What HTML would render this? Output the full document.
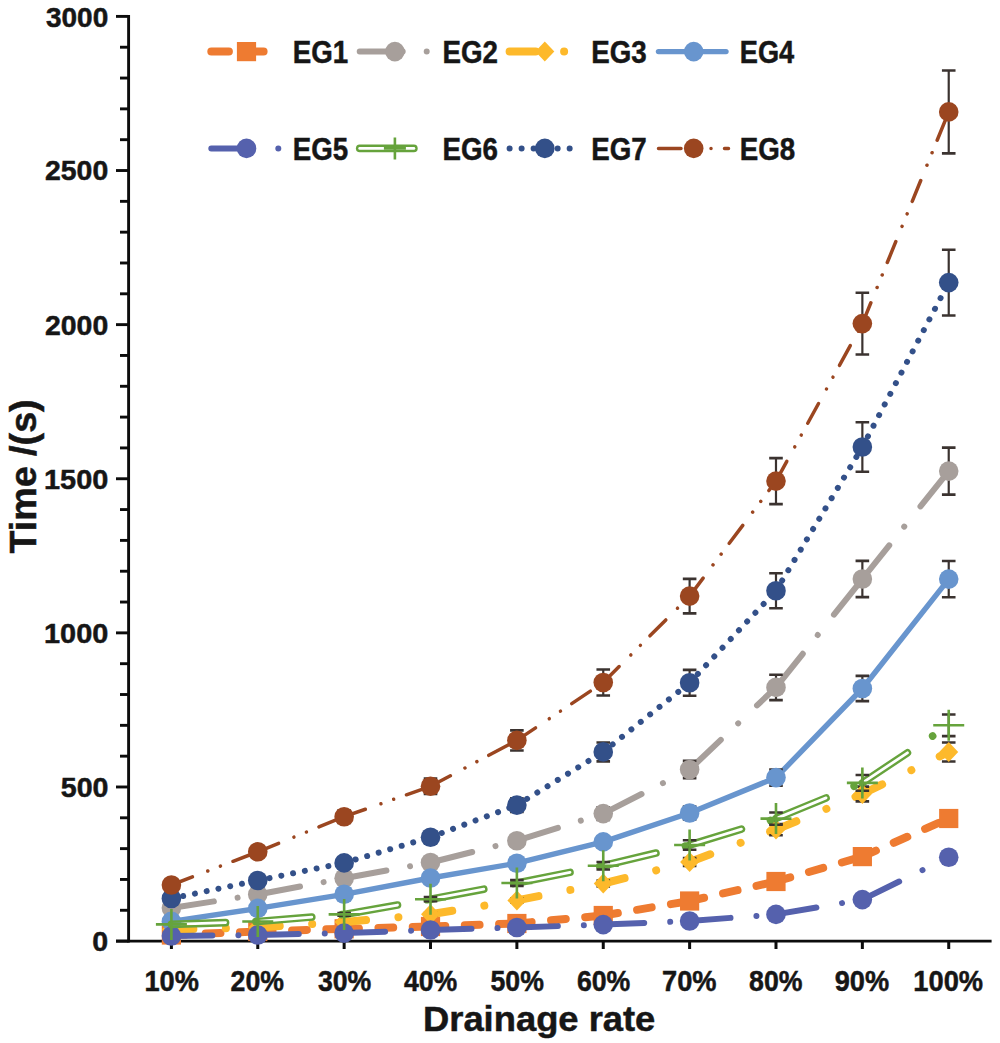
<!DOCTYPE html><html><head><meta charset="utf-8"><style>html,body{margin:0;padding:0;background:#fff;}svg{display:block;}text{font-family:"Liberation Sans",sans-serif;font-weight:bold;fill:#161616;stroke:#161616;stroke-width:0.5px;}</style></head><body>
<svg width="1000" height="1043" viewBox="0 0 1000 1043">
<rect width="1000" height="1043" fill="#fff"/>
<line x1="128.6" y1="15" x2="128.6" y2="942.5" stroke="#0c0c0c" stroke-width="2.9"/>
<line x1="116" y1="941.1" x2="991.6" y2="941.1" stroke="#0c0c0c" stroke-width="2.9"/>
<line x1="116" y1="941.10" x2="128.6" y2="941.10" stroke="#0c0c0c" stroke-width="2.9"/>
<line x1="120" y1="910.28" x2="128.6" y2="910.28" stroke="#0c0c0c" stroke-width="2.9"/>
<line x1="120" y1="879.45" x2="128.6" y2="879.45" stroke="#0c0c0c" stroke-width="2.9"/>
<line x1="120" y1="848.63" x2="128.6" y2="848.63" stroke="#0c0c0c" stroke-width="2.9"/>
<line x1="120" y1="817.81" x2="128.6" y2="817.81" stroke="#0c0c0c" stroke-width="2.9"/>
<line x1="116" y1="786.98" x2="128.6" y2="786.98" stroke="#0c0c0c" stroke-width="2.9"/>
<line x1="120" y1="756.16" x2="128.6" y2="756.16" stroke="#0c0c0c" stroke-width="2.9"/>
<line x1="120" y1="725.34" x2="128.6" y2="725.34" stroke="#0c0c0c" stroke-width="2.9"/>
<line x1="120" y1="694.51" x2="128.6" y2="694.51" stroke="#0c0c0c" stroke-width="2.9"/>
<line x1="120" y1="663.69" x2="128.6" y2="663.69" stroke="#0c0c0c" stroke-width="2.9"/>
<line x1="116" y1="632.87" x2="128.6" y2="632.87" stroke="#0c0c0c" stroke-width="2.9"/>
<line x1="120" y1="602.04" x2="128.6" y2="602.04" stroke="#0c0c0c" stroke-width="2.9"/>
<line x1="120" y1="571.22" x2="128.6" y2="571.22" stroke="#0c0c0c" stroke-width="2.9"/>
<line x1="120" y1="540.40" x2="128.6" y2="540.40" stroke="#0c0c0c" stroke-width="2.9"/>
<line x1="120" y1="509.57" x2="128.6" y2="509.57" stroke="#0c0c0c" stroke-width="2.9"/>
<line x1="116" y1="478.75" x2="128.6" y2="478.75" stroke="#0c0c0c" stroke-width="2.9"/>
<line x1="120" y1="447.93" x2="128.6" y2="447.93" stroke="#0c0c0c" stroke-width="2.9"/>
<line x1="120" y1="417.10" x2="128.6" y2="417.10" stroke="#0c0c0c" stroke-width="2.9"/>
<line x1="120" y1="386.28" x2="128.6" y2="386.28" stroke="#0c0c0c" stroke-width="2.9"/>
<line x1="120" y1="355.46" x2="128.6" y2="355.46" stroke="#0c0c0c" stroke-width="2.9"/>
<line x1="116" y1="324.63" x2="128.6" y2="324.63" stroke="#0c0c0c" stroke-width="2.9"/>
<line x1="120" y1="293.81" x2="128.6" y2="293.81" stroke="#0c0c0c" stroke-width="2.9"/>
<line x1="120" y1="262.99" x2="128.6" y2="262.99" stroke="#0c0c0c" stroke-width="2.9"/>
<line x1="120" y1="232.16" x2="128.6" y2="232.16" stroke="#0c0c0c" stroke-width="2.9"/>
<line x1="120" y1="201.34" x2="128.6" y2="201.34" stroke="#0c0c0c" stroke-width="2.9"/>
<line x1="116" y1="170.52" x2="128.6" y2="170.52" stroke="#0c0c0c" stroke-width="2.9"/>
<line x1="120" y1="139.69" x2="128.6" y2="139.69" stroke="#0c0c0c" stroke-width="2.9"/>
<line x1="120" y1="108.87" x2="128.6" y2="108.87" stroke="#0c0c0c" stroke-width="2.9"/>
<line x1="120" y1="78.05" x2="128.6" y2="78.05" stroke="#0c0c0c" stroke-width="2.9"/>
<line x1="120" y1="47.22" x2="128.6" y2="47.22" stroke="#0c0c0c" stroke-width="2.9"/>
<line x1="116" y1="16.40" x2="128.6" y2="16.40" stroke="#0c0c0c" stroke-width="2.9"/>
<line x1="171.40" y1="941" x2="171.40" y2="949" stroke="#0c0c0c" stroke-width="3"/>
<line x1="257.77" y1="941" x2="257.77" y2="949" stroke="#0c0c0c" stroke-width="3"/>
<line x1="344.14" y1="941" x2="344.14" y2="949" stroke="#0c0c0c" stroke-width="3"/>
<line x1="430.51" y1="941" x2="430.51" y2="949" stroke="#0c0c0c" stroke-width="3"/>
<line x1="516.88" y1="941" x2="516.88" y2="949" stroke="#0c0c0c" stroke-width="3"/>
<line x1="603.25" y1="941" x2="603.25" y2="949" stroke="#0c0c0c" stroke-width="3"/>
<line x1="689.62" y1="941" x2="689.62" y2="949" stroke="#0c0c0c" stroke-width="3"/>
<line x1="775.99" y1="941" x2="775.99" y2="949" stroke="#0c0c0c" stroke-width="3"/>
<line x1="862.36" y1="941" x2="862.36" y2="949" stroke="#0c0c0c" stroke-width="3"/>
<line x1="948.73" y1="941" x2="948.73" y2="949" stroke="#0c0c0c" stroke-width="3"/>
<text x="92.20" y="950.80" font-size="28.04" textLength="15.89" lengthAdjust="spacingAndGlyphs">0</text>
<text x="60.80" y="797.10" font-size="28.04" textLength="47.70" lengthAdjust="spacingAndGlyphs">500</text>
<text x="44.00" y="643.40" font-size="28.04" textLength="64.27" lengthAdjust="spacingAndGlyphs">1000</text>
<text x="44.00" y="488.70" font-size="28.04" textLength="64.27" lengthAdjust="spacingAndGlyphs">1500</text>
<text x="45.00" y="335.00" font-size="28.04" textLength="63.23" lengthAdjust="spacingAndGlyphs">2000</text>
<text x="45.00" y="180.30" font-size="28.04" textLength="63.23" lengthAdjust="spacingAndGlyphs">2500</text>
<text x="46.00" y="26.60" font-size="28.04" textLength="62.21" lengthAdjust="spacingAndGlyphs">3000</text>
<text x="144.50" y="991.00" font-size="29.88" textLength="54.42" lengthAdjust="spacingAndGlyphs">10%</text>
<text x="230.60" y="991.00" font-size="29.88" textLength="53.40" lengthAdjust="spacingAndGlyphs">20%</text>
<text x="317.90" y="991.00" font-size="29.88" textLength="53.40" lengthAdjust="spacingAndGlyphs">30%</text>
<text x="403.90" y="991.00" font-size="29.88" textLength="53.40" lengthAdjust="spacingAndGlyphs">40%</text>
<text x="490.50" y="991.00" font-size="29.88" textLength="53.40" lengthAdjust="spacingAndGlyphs">50%</text>
<text x="576.90" y="991.00" font-size="29.88" textLength="53.38" lengthAdjust="spacingAndGlyphs">60%</text>
<text x="662.10" y="991.00" font-size="29.88" textLength="54.46" lengthAdjust="spacingAndGlyphs">70%</text>
<text x="749.10" y="991.00" font-size="29.88" textLength="53.40" lengthAdjust="spacingAndGlyphs">80%</text>
<text x="834.70" y="991.00" font-size="29.88" textLength="54.40" lengthAdjust="spacingAndGlyphs">90%</text>
<text x="913.30" y="991.00" font-size="29.88" textLength="69.75" lengthAdjust="spacingAndGlyphs">100%</text>
<text x="292.70" y="63.10" font-size="31.61" textLength="55.45" lengthAdjust="spacingAndGlyphs">EG1</text>
<text x="442.50" y="63.10" font-size="31.61" textLength="55.45" lengthAdjust="spacingAndGlyphs">EG2</text>
<text x="591.20" y="63.10" font-size="31.61" textLength="55.45" lengthAdjust="spacingAndGlyphs">EG3</text>
<text x="739.80" y="63.10" font-size="31.61" textLength="54.43" lengthAdjust="spacingAndGlyphs">EG4</text>
<text x="292.70" y="159.60" font-size="31.61" textLength="55.45" lengthAdjust="spacingAndGlyphs">EG5</text>
<text x="442.50" y="159.60" font-size="31.61" textLength="55.45" lengthAdjust="spacingAndGlyphs">EG6</text>
<text x="591.20" y="159.60" font-size="31.61" textLength="55.45" lengthAdjust="spacingAndGlyphs">EG7</text>
<text x="739.80" y="159.60" font-size="31.61" textLength="55.45" lengthAdjust="spacingAndGlyphs">EG8</text>
<text x="423.00" y="1030.50" font-size="35.60" textLength="232.33" lengthAdjust="spacingAndGlyphs">Drainage rate</text>
<text transform="translate(36.10,553.60) rotate(-90)" font-size="36.50" textLength="154.24" lengthAdjust="spacingAndGlyphs">Time /(s)</text>
<g><line x1="171.40" y1="935.00" x2="257.77" y2="931.50" stroke="#EE7B31" stroke-width="8" stroke-linecap="round" stroke-dasharray="14.8 19.5"/><line x1="257.77" y1="931.50" x2="344.14" y2="928.80" stroke="#EE7B31" stroke-width="8" stroke-linecap="round" stroke-dasharray="14.8 19.5"/><line x1="344.14" y1="928.80" x2="430.51" y2="926.50" stroke="#EE7B31" stroke-width="8" stroke-linecap="round" stroke-dasharray="14.8 19.5"/><line x1="430.51" y1="926.50" x2="516.88" y2="923.50" stroke="#EE7B31" stroke-width="8" stroke-linecap="round" stroke-dasharray="14.8 19.5"/><line x1="516.88" y1="923.50" x2="603.25" y2="915.50" stroke="#EE7B31" stroke-width="8" stroke-linecap="round" stroke-dasharray="14.8 19.5"/><line x1="603.25" y1="915.50" x2="689.62" y2="901.00" stroke="#EE7B31" stroke-width="8" stroke-linecap="round" stroke-dasharray="14.8 19.5"/><line x1="689.62" y1="901.00" x2="775.99" y2="881.50" stroke="#EE7B31" stroke-width="8" stroke-linecap="round" stroke-dasharray="14.8 19.5"/><line x1="775.99" y1="881.50" x2="862.36" y2="856.60" stroke="#EE7B31" stroke-width="8" stroke-linecap="round" stroke-dasharray="14.8 19.5"/><line x1="862.36" y1="856.60" x2="948.73" y2="818.50" stroke="#EE7B31" stroke-width="8" stroke-linecap="round" stroke-dasharray="14.8 19.5"/><path d="M603.25,914.22V916.78" stroke="#3B3330" stroke-width="2.2" fill="none"/><path d="M596.45,914.22H610.05M596.45,916.78H610.05" stroke="#3B3330" stroke-width="2.6" fill="none"/><path d="M689.62,899.00V903.00" stroke="#3B3330" stroke-width="2.2" fill="none"/><path d="M682.82,899.00H696.42M682.82,903.00H696.42" stroke="#3B3330" stroke-width="2.6" fill="none"/><path d="M775.99,878.52V884.48" stroke="#3B3330" stroke-width="2.2" fill="none"/><path d="M769.19,878.52H782.79M769.19,884.48H782.79" stroke="#3B3330" stroke-width="2.6" fill="none"/><path d="M862.36,852.38V860.83" stroke="#3B3330" stroke-width="2.2" fill="none"/><path d="M855.56,852.38H869.16M855.56,860.83H869.16" stroke="#3B3330" stroke-width="2.6" fill="none"/><path d="M948.73,812.37V824.63" stroke="#3B3330" stroke-width="2.2" fill="none"/><path d="M941.93,812.37H955.53M941.93,824.63H955.53" stroke="#3B3330" stroke-width="2.6" fill="none"/><rect x="161.80" y="925.40" width="19.2" height="19.2" fill="#EE7B31"/><rect x="248.17" y="921.90" width="19.2" height="19.2" fill="#EE7B31"/><rect x="334.54" y="919.20" width="19.2" height="19.2" fill="#EE7B31"/><rect x="420.91" y="916.90" width="19.2" height="19.2" fill="#EE7B31"/><rect x="507.28" y="913.90" width="19.2" height="19.2" fill="#EE7B31"/><rect x="593.65" y="905.90" width="19.2" height="19.2" fill="#EE7B31"/><rect x="680.02" y="891.40" width="19.2" height="19.2" fill="#EE7B31"/><rect x="766.39" y="871.90" width="19.2" height="19.2" fill="#EE7B31"/><rect x="852.76" y="847.00" width="19.2" height="19.2" fill="#EE7B31"/><rect x="939.13" y="808.90" width="19.2" height="19.2" fill="#EE7B31"/></g>
<g><line x1="171.40" y1="908.00" x2="257.77" y2="894.50" stroke="#A79F9B" stroke-width="6" stroke-linecap="round" stroke-dasharray="43 24 0.01 26"/><line x1="257.77" y1="894.50" x2="344.14" y2="878.30" stroke="#A79F9B" stroke-width="6" stroke-linecap="round" stroke-dasharray="43 24 0.01 26"/><line x1="344.14" y1="878.30" x2="430.51" y2="862.50" stroke="#A79F9B" stroke-width="6" stroke-linecap="round" stroke-dasharray="43 24 0.01 26"/><line x1="430.51" y1="862.50" x2="516.88" y2="840.70" stroke="#A79F9B" stroke-width="6" stroke-linecap="round" stroke-dasharray="43 24 0.01 26"/><line x1="516.88" y1="840.70" x2="603.25" y2="813.60" stroke="#A79F9B" stroke-width="6" stroke-linecap="round" stroke-dasharray="43 24 0.01 26"/><line x1="603.25" y1="813.60" x2="689.62" y2="769.50" stroke="#A79F9B" stroke-width="6" stroke-linecap="round" stroke-dasharray="43 24 0.01 26"/><line x1="689.62" y1="769.50" x2="775.99" y2="687.40" stroke="#A79F9B" stroke-width="6" stroke-linecap="round" stroke-dasharray="43 24 0.01 26"/><line x1="775.99" y1="687.40" x2="862.36" y2="579.00" stroke="#A79F9B" stroke-width="6" stroke-linecap="round" stroke-dasharray="43 24 0.01 26"/><line x1="862.36" y1="579.00" x2="948.73" y2="471.10" stroke="#A79F9B" stroke-width="6" stroke-linecap="round" stroke-dasharray="43 24 0.01 26"/><path d="M171.40,906.35V909.65" stroke="#3B3330" stroke-width="2.2" fill="none"/><path d="M164.60,906.35H178.20M164.60,909.65H178.20" stroke="#3B3330" stroke-width="2.6" fill="none"/><path d="M257.77,892.17V896.83" stroke="#3B3330" stroke-width="2.2" fill="none"/><path d="M250.97,892.17H264.57M250.97,896.83H264.57" stroke="#3B3330" stroke-width="2.6" fill="none"/><path d="M344.14,875.16V881.44" stroke="#3B3330" stroke-width="2.2" fill="none"/><path d="M337.34,875.16H350.94M337.34,881.44H350.94" stroke="#3B3330" stroke-width="2.6" fill="none"/><path d="M430.51,858.57V866.43" stroke="#3B3330" stroke-width="2.2" fill="none"/><path d="M423.71,858.57H437.31M423.71,866.43H437.31" stroke="#3B3330" stroke-width="2.6" fill="none"/><path d="M516.88,835.68V845.72" stroke="#3B3330" stroke-width="2.2" fill="none"/><path d="M510.08,835.68H523.68M510.08,845.72H523.68" stroke="#3B3330" stroke-width="2.6" fill="none"/><path d="M603.25,807.23V819.98" stroke="#3B3330" stroke-width="2.2" fill="none"/><path d="M596.45,807.23H610.05M596.45,819.98H610.05" stroke="#3B3330" stroke-width="2.6" fill="none"/><path d="M689.62,760.92V778.08" stroke="#3B3330" stroke-width="2.2" fill="none"/><path d="M682.82,760.92H696.42M682.82,778.08H696.42" stroke="#3B3330" stroke-width="2.6" fill="none"/><path d="M775.99,674.71V700.09" stroke="#3B3330" stroke-width="2.2" fill="none"/><path d="M769.19,674.71H782.79M769.19,700.09H782.79" stroke="#3B3330" stroke-width="2.6" fill="none"/><path d="M862.36,560.89V597.11" stroke="#3B3330" stroke-width="2.2" fill="none"/><path d="M855.56,560.89H869.16M855.56,597.11H869.16" stroke="#3B3330" stroke-width="2.6" fill="none"/><path d="M948.73,447.60V494.60" stroke="#3B3330" stroke-width="2.2" fill="none"/><path d="M941.93,447.60H955.53M941.93,494.60H955.53" stroke="#3B3330" stroke-width="2.6" fill="none"/><circle cx="171.40" cy="908.00" r="9.8" fill="#A79F9B"/><circle cx="257.77" cy="894.50" r="9.8" fill="#A79F9B"/><circle cx="344.14" cy="878.30" r="9.8" fill="#A79F9B"/><circle cx="430.51" cy="862.50" r="9.8" fill="#A79F9B"/><circle cx="516.88" cy="840.70" r="9.8" fill="#A79F9B"/><circle cx="603.25" cy="813.60" r="9.8" fill="#A79F9B"/><circle cx="689.62" cy="769.50" r="9.8" fill="#A79F9B"/><circle cx="775.99" cy="687.40" r="9.8" fill="#A79F9B"/><circle cx="862.36" cy="579.00" r="9.8" fill="#A79F9B"/><circle cx="948.73" cy="471.10" r="9.8" fill="#A79F9B"/></g>
<g><line x1="171.40" y1="929.50" x2="257.77" y2="927.50" stroke="#FDB92B" stroke-width="8" stroke-linecap="round" stroke-dasharray="22 32.5 0.01 31.5"/><line x1="257.77" y1="927.50" x2="344.14" y2="922.00" stroke="#FDB92B" stroke-width="8" stroke-linecap="round" stroke-dasharray="22 32.5 0.01 31.5"/><line x1="344.14" y1="922.00" x2="430.51" y2="914.30" stroke="#FDB92B" stroke-width="8" stroke-linecap="round" stroke-dasharray="22 32.5 0.01 31.5"/><line x1="430.51" y1="914.30" x2="516.88" y2="900.40" stroke="#FDB92B" stroke-width="8" stroke-linecap="round" stroke-dasharray="22 32.5 0.01 31.5"/><line x1="516.88" y1="900.40" x2="603.25" y2="883.50" stroke="#FDB92B" stroke-width="8" stroke-linecap="round" stroke-dasharray="22 32.5 0.01 31.5"/><line x1="603.25" y1="883.50" x2="689.62" y2="862.00" stroke="#FDB92B" stroke-width="8" stroke-linecap="round" stroke-dasharray="22 32.5 0.01 31.5"/><line x1="689.62" y1="862.00" x2="775.99" y2="829.60" stroke="#FDB92B" stroke-width="8" stroke-linecap="round" stroke-dasharray="22 32.5 0.01 31.5"/><line x1="775.99" y1="829.60" x2="862.36" y2="794.00" stroke="#FDB92B" stroke-width="8" stroke-linecap="round" stroke-dasharray="22 32.5 0.01 31.5"/><line x1="862.36" y1="794.00" x2="948.73" y2="752.00" stroke="#FDB92B" stroke-width="8" stroke-linecap="round" stroke-dasharray="22 32.5 0.01 31.5"/><path d="M430.51,912.96V915.64" stroke="#3B3330" stroke-width="2.2" fill="none"/><path d="M423.71,912.96H437.31M423.71,915.64H437.31" stroke="#3B3330" stroke-width="2.6" fill="none"/><path d="M516.88,898.37V902.43" stroke="#3B3330" stroke-width="2.2" fill="none"/><path d="M510.08,898.37H523.68M510.08,902.43H523.68" stroke="#3B3330" stroke-width="2.6" fill="none"/><path d="M603.25,880.62V886.38" stroke="#3B3330" stroke-width="2.2" fill="none"/><path d="M596.45,880.62H610.05M596.45,886.38H610.05" stroke="#3B3330" stroke-width="2.6" fill="none"/><path d="M689.62,858.04V865.96" stroke="#3B3330" stroke-width="2.2" fill="none"/><path d="M682.82,858.04H696.42M682.82,865.96H696.42" stroke="#3B3330" stroke-width="2.6" fill="none"/><path d="M775.99,824.02V835.18" stroke="#3B3330" stroke-width="2.2" fill="none"/><path d="M769.19,824.02H782.79M769.19,835.18H782.79" stroke="#3B3330" stroke-width="2.6" fill="none"/><path d="M862.36,786.64V801.36" stroke="#3B3330" stroke-width="2.2" fill="none"/><path d="M855.56,786.64H869.16M855.56,801.36H869.16" stroke="#3B3330" stroke-width="2.6" fill="none"/><path d="M948.73,742.54V761.46" stroke="#3B3330" stroke-width="2.2" fill="none"/><path d="M941.93,742.54H955.53M941.93,761.46H955.53" stroke="#3B3330" stroke-width="2.6" fill="none"/><path d="M161.90,929.50L171.40,919.50L180.90,929.50L171.40,939.50Z" fill="#FDB92B"/><path d="M248.27,927.50L257.77,917.50L267.27,927.50L257.77,937.50Z" fill="#FDB92B"/><path d="M334.64,922.00L344.14,912.00L353.64,922.00L344.14,932.00Z" fill="#FDB92B"/><path d="M421.01,914.30L430.51,904.30L440.01,914.30L430.51,924.30Z" fill="#FDB92B"/><path d="M507.38,900.40L516.88,890.40L526.38,900.40L516.88,910.40Z" fill="#FDB92B"/><path d="M593.75,883.50L603.25,873.50L612.75,883.50L603.25,893.50Z" fill="#FDB92B"/><path d="M680.12,862.00L689.62,852.00L699.12,862.00L689.62,872.00Z" fill="#FDB92B"/><path d="M766.49,829.60L775.99,819.60L785.49,829.60L775.99,839.60Z" fill="#FDB92B"/><path d="M852.86,794.00L862.36,784.00L871.86,794.00L862.36,804.00Z" fill="#FDB92B"/><path d="M939.23,752.00L948.73,742.00L958.23,752.00L948.73,762.00Z" fill="#FDB92B"/></g>
<g><line x1="171.40" y1="921.40" x2="257.77" y2="908.40" stroke="#6895CE" stroke-width="5.4" stroke-linecap="round"/><line x1="257.77" y1="908.40" x2="344.14" y2="894.30" stroke="#6895CE" stroke-width="5.4" stroke-linecap="round"/><line x1="344.14" y1="894.30" x2="430.51" y2="878.00" stroke="#6895CE" stroke-width="5.4" stroke-linecap="round"/><line x1="430.51" y1="878.00" x2="516.88" y2="863.20" stroke="#6895CE" stroke-width="5.4" stroke-linecap="round"/><line x1="516.88" y1="863.20" x2="603.25" y2="841.90" stroke="#6895CE" stroke-width="5.4" stroke-linecap="round"/><line x1="603.25" y1="841.90" x2="689.62" y2="813.00" stroke="#6895CE" stroke-width="5.4" stroke-linecap="round"/><line x1="689.62" y1="813.00" x2="775.99" y2="777.60" stroke="#6895CE" stroke-width="5.4" stroke-linecap="round"/><line x1="775.99" y1="777.60" x2="862.36" y2="688.50" stroke="#6895CE" stroke-width="5.4" stroke-linecap="round"/><line x1="862.36" y1="688.50" x2="948.73" y2="579.10" stroke="#6895CE" stroke-width="5.4" stroke-linecap="round"/><path d="M257.77,906.76V910.03" stroke="#3B3330" stroke-width="2.2" fill="none"/><path d="M250.97,906.76H264.57M250.97,910.03H264.57" stroke="#3B3330" stroke-width="2.6" fill="none"/><path d="M344.14,891.96V896.64" stroke="#3B3330" stroke-width="2.2" fill="none"/><path d="M337.34,891.96H350.94M337.34,896.64H350.94" stroke="#3B3330" stroke-width="2.6" fill="none"/><path d="M430.51,874.85V881.15" stroke="#3B3330" stroke-width="2.2" fill="none"/><path d="M423.71,874.85H437.31M423.71,881.15H437.31" stroke="#3B3330" stroke-width="2.6" fill="none"/><path d="M516.88,859.31V867.10" stroke="#3B3330" stroke-width="2.2" fill="none"/><path d="M510.08,859.31H523.68M510.08,867.10H523.68" stroke="#3B3330" stroke-width="2.6" fill="none"/><path d="M603.25,836.94V846.86" stroke="#3B3330" stroke-width="2.2" fill="none"/><path d="M596.45,836.94H610.05M596.45,846.86H610.05" stroke="#3B3330" stroke-width="2.6" fill="none"/><path d="M689.62,806.60V819.40" stroke="#3B3330" stroke-width="2.2" fill="none"/><path d="M682.82,806.60H696.42M682.82,819.40H696.42" stroke="#3B3330" stroke-width="2.6" fill="none"/><path d="M775.99,769.43V785.77" stroke="#3B3330" stroke-width="2.2" fill="none"/><path d="M769.19,769.43H782.79M769.19,785.77H782.79" stroke="#3B3330" stroke-width="2.6" fill="none"/><path d="M862.36,675.87V701.13" stroke="#3B3330" stroke-width="2.2" fill="none"/><path d="M855.56,675.87H869.16M855.56,701.13H869.16" stroke="#3B3330" stroke-width="2.6" fill="none"/><path d="M948.73,561.00V597.20" stroke="#3B3330" stroke-width="2.2" fill="none"/><path d="M941.93,561.00H955.53M941.93,597.20H955.53" stroke="#3B3330" stroke-width="2.6" fill="none"/><circle cx="171.40" cy="921.40" r="9.8" fill="#6895CE"/><circle cx="257.77" cy="908.40" r="9.8" fill="#6895CE"/><circle cx="344.14" cy="894.30" r="9.8" fill="#6895CE"/><circle cx="430.51" cy="878.00" r="9.8" fill="#6895CE"/><circle cx="516.88" cy="863.20" r="9.8" fill="#6895CE"/><circle cx="603.25" cy="841.90" r="9.8" fill="#6895CE"/><circle cx="689.62" cy="813.00" r="9.8" fill="#6895CE"/><circle cx="775.99" cy="777.60" r="9.8" fill="#6895CE"/><circle cx="862.36" cy="688.50" r="9.8" fill="#6895CE"/><circle cx="948.73" cy="579.10" r="9.8" fill="#6895CE"/></g>
<g><line x1="171.40" y1="936.00" x2="257.77" y2="935.00" stroke="#5561AD" stroke-width="6" stroke-linecap="round" stroke-dasharray="41 26 0.01 26"/><line x1="257.77" y1="935.00" x2="344.14" y2="933.10" stroke="#5561AD" stroke-width="6" stroke-linecap="round" stroke-dasharray="41 26 0.01 26"/><line x1="344.14" y1="933.10" x2="430.51" y2="930.00" stroke="#5561AD" stroke-width="6" stroke-linecap="round" stroke-dasharray="41 26 0.01 26"/><line x1="430.51" y1="930.00" x2="516.88" y2="927.50" stroke="#5561AD" stroke-width="6" stroke-linecap="round" stroke-dasharray="41 26 0.01 26"/><line x1="516.88" y1="927.50" x2="603.25" y2="924.60" stroke="#5561AD" stroke-width="6" stroke-linecap="round" stroke-dasharray="41 26 0.01 26"/><line x1="603.25" y1="924.60" x2="689.62" y2="921.00" stroke="#5561AD" stroke-width="6" stroke-linecap="round" stroke-dasharray="41 26 0.01 26"/><line x1="689.62" y1="921.00" x2="775.99" y2="914.40" stroke="#5561AD" stroke-width="6" stroke-linecap="round" stroke-dasharray="41 26 0.01 26"/><line x1="775.99" y1="914.40" x2="862.36" y2="899.60" stroke="#5561AD" stroke-width="6" stroke-linecap="round" stroke-dasharray="41 26 0.01 26"/><line x1="862.36" y1="899.60" x2="948.73" y2="857.20" stroke="#5561AD" stroke-width="6" stroke-linecap="round" stroke-dasharray="41 26 0.01 26"/><path d="M775.99,913.06V915.74" stroke="#3B3330" stroke-width="2.2" fill="none"/><path d="M769.19,913.06H782.79M769.19,915.74H782.79" stroke="#3B3330" stroke-width="2.6" fill="none"/><path d="M862.36,897.52V901.68" stroke="#3B3330" stroke-width="2.2" fill="none"/><path d="M855.56,897.52H869.16M855.56,901.68H869.16" stroke="#3B3330" stroke-width="2.6" fill="none"/><path d="M948.73,853.00V861.40" stroke="#3B3330" stroke-width="2.2" fill="none"/><path d="M941.93,853.00H955.53M941.93,861.40H955.53" stroke="#3B3330" stroke-width="2.6" fill="none"/><circle cx="171.40" cy="936.00" r="9.8" fill="#5561AD"/><circle cx="257.77" cy="935.00" r="9.8" fill="#5561AD"/><circle cx="344.14" cy="933.10" r="9.8" fill="#5561AD"/><circle cx="430.51" cy="930.00" r="9.8" fill="#5561AD"/><circle cx="516.88" cy="927.50" r="9.8" fill="#5561AD"/><circle cx="603.25" cy="924.60" r="9.8" fill="#5561AD"/><circle cx="689.62" cy="921.00" r="9.8" fill="#5561AD"/><circle cx="775.99" cy="914.40" r="9.8" fill="#5561AD"/><circle cx="862.36" cy="899.60" r="9.8" fill="#5561AD"/><circle cx="948.73" cy="857.20" r="9.8" fill="#5561AD"/></g>
<g><mask id="m46" maskUnits="userSpaceOnUse" x="0" y="0" width="1000" height="1043"><line x1="171.40" y1="924.40" x2="257.77" y2="921.50" stroke="#fff" stroke-width="7.6" stroke-linecap="round" stroke-dasharray="54.2 30.3 0.01 200"/><line x1="171.40" y1="924.40" x2="257.77" y2="921.50" stroke="#000" stroke-width="2.8" stroke-linecap="round" stroke-dasharray="54.2 300"/></mask><rect x="0" y="0" width="1000" height="1043" fill="#66A33C" mask="url(#m46)"/><mask id="m47" maskUnits="userSpaceOnUse" x="0" y="0" width="1000" height="1043"><line x1="257.77" y1="921.50" x2="344.14" y2="914.40" stroke="#fff" stroke-width="7.6" stroke-linecap="round" stroke-dasharray="54.2 30.3 0.01 200"/><line x1="257.77" y1="921.50" x2="344.14" y2="914.40" stroke="#000" stroke-width="2.8" stroke-linecap="round" stroke-dasharray="54.2 300"/></mask><rect x="0" y="0" width="1000" height="1043" fill="#66A33C" mask="url(#m47)"/><mask id="m48" maskUnits="userSpaceOnUse" x="0" y="0" width="1000" height="1043"><line x1="344.14" y1="914.40" x2="430.51" y2="899.20" stroke="#fff" stroke-width="7.6" stroke-linecap="round" stroke-dasharray="54.2 30.3 0.01 200"/><line x1="344.14" y1="914.40" x2="430.51" y2="899.20" stroke="#000" stroke-width="2.8" stroke-linecap="round" stroke-dasharray="54.2 300"/></mask><rect x="0" y="0" width="1000" height="1043" fill="#66A33C" mask="url(#m48)"/><mask id="m49" maskUnits="userSpaceOnUse" x="0" y="0" width="1000" height="1043"><line x1="430.51" y1="899.20" x2="516.88" y2="883.00" stroke="#fff" stroke-width="7.6" stroke-linecap="round" stroke-dasharray="54.2 30.3 0.01 200"/><line x1="430.51" y1="899.20" x2="516.88" y2="883.00" stroke="#000" stroke-width="2.8" stroke-linecap="round" stroke-dasharray="54.2 300"/></mask><rect x="0" y="0" width="1000" height="1043" fill="#66A33C" mask="url(#m49)"/><mask id="m50" maskUnits="userSpaceOnUse" x="0" y="0" width="1000" height="1043"><line x1="516.88" y1="883.00" x2="603.25" y2="865.70" stroke="#fff" stroke-width="7.6" stroke-linecap="round" stroke-dasharray="54.2 30.3 0.01 200"/><line x1="516.88" y1="883.00" x2="603.25" y2="865.70" stroke="#000" stroke-width="2.8" stroke-linecap="round" stroke-dasharray="54.2 300"/></mask><rect x="0" y="0" width="1000" height="1043" fill="#66A33C" mask="url(#m50)"/><mask id="m51" maskUnits="userSpaceOnUse" x="0" y="0" width="1000" height="1043"><line x1="603.25" y1="865.70" x2="689.62" y2="845.00" stroke="#fff" stroke-width="7.6" stroke-linecap="round" stroke-dasharray="54.2 30.3 0.01 200"/><line x1="603.25" y1="865.70" x2="689.62" y2="845.00" stroke="#000" stroke-width="2.8" stroke-linecap="round" stroke-dasharray="54.2 300"/></mask><rect x="0" y="0" width="1000" height="1043" fill="#66A33C" mask="url(#m51)"/><mask id="m52" maskUnits="userSpaceOnUse" x="0" y="0" width="1000" height="1043"><line x1="689.62" y1="845.00" x2="775.99" y2="818.60" stroke="#fff" stroke-width="7.6" stroke-linecap="round" stroke-dasharray="54.2 30.3 0.01 200"/><line x1="689.62" y1="845.00" x2="775.99" y2="818.60" stroke="#000" stroke-width="2.8" stroke-linecap="round" stroke-dasharray="54.2 300"/></mask><rect x="0" y="0" width="1000" height="1043" fill="#66A33C" mask="url(#m52)"/><mask id="m53" maskUnits="userSpaceOnUse" x="0" y="0" width="1000" height="1043"><line x1="775.99" y1="818.60" x2="862.36" y2="782.90" stroke="#fff" stroke-width="7.6" stroke-linecap="round" stroke-dasharray="54.2 30.3 0.01 200"/><line x1="775.99" y1="818.60" x2="862.36" y2="782.90" stroke="#000" stroke-width="2.8" stroke-linecap="round" stroke-dasharray="54.2 300"/></mask><rect x="0" y="0" width="1000" height="1043" fill="#66A33C" mask="url(#m53)"/><mask id="m54" maskUnits="userSpaceOnUse" x="0" y="0" width="1000" height="1043"><line x1="862.36" y1="782.90" x2="948.73" y2="725.30" stroke="#fff" stroke-width="7.6" stroke-linecap="round" stroke-dasharray="54.2 30.3 0.01 200"/><line x1="862.36" y1="782.90" x2="948.73" y2="725.30" stroke="#000" stroke-width="2.8" stroke-linecap="round" stroke-dasharray="54.2 300"/></mask><rect x="0" y="0" width="1000" height="1043" fill="#66A33C" mask="url(#m54)"/><path d="M344.14,913.06V915.74" stroke="#3B3330" stroke-width="2.2" fill="none"/><path d="M337.34,913.06H350.94M337.34,915.74H350.94" stroke="#3B3330" stroke-width="2.6" fill="none"/><path d="M430.51,897.11V901.30" stroke="#3B3330" stroke-width="2.2" fill="none"/><path d="M423.71,897.11H437.31M423.71,901.30H437.31" stroke="#3B3330" stroke-width="2.6" fill="none"/><path d="M516.88,880.10V885.90" stroke="#3B3330" stroke-width="2.2" fill="none"/><path d="M510.08,880.10H523.68M510.08,885.90H523.68" stroke="#3B3330" stroke-width="2.6" fill="none"/><path d="M603.25,861.93V869.47" stroke="#3B3330" stroke-width="2.2" fill="none"/><path d="M596.45,861.93H610.05M596.45,869.47H610.05" stroke="#3B3330" stroke-width="2.6" fill="none"/><path d="M689.62,840.20V849.80" stroke="#3B3330" stroke-width="2.2" fill="none"/><path d="M682.82,840.20H696.42M682.82,849.80H696.42" stroke="#3B3330" stroke-width="2.6" fill="none"/><path d="M775.99,812.48V824.73" stroke="#3B3330" stroke-width="2.2" fill="none"/><path d="M769.19,812.48H782.79M769.19,824.73H782.79" stroke="#3B3330" stroke-width="2.6" fill="none"/><path d="M862.36,774.99V790.81" stroke="#3B3330" stroke-width="2.2" fill="none"/><path d="M855.56,774.99H869.16M855.56,790.81H869.16" stroke="#3B3330" stroke-width="2.6" fill="none"/><path d="M948.73,714.51V736.09" stroke="#3B3330" stroke-width="2.2" fill="none"/><path d="M941.93,714.51H955.53M941.93,736.09H955.53" stroke="#3B3330" stroke-width="2.6" fill="none"/><path d="M155.90,924.40H186.90M171.40,908.90V939.90" stroke="#66A33C" stroke-width="2.6" fill="none"/><path d="M242.27,921.50H273.27M257.77,906.00V937.00" stroke="#66A33C" stroke-width="2.6" fill="none"/><path d="M328.64,914.40H359.64M344.14,898.90V929.90" stroke="#66A33C" stroke-width="2.6" fill="none"/><path d="M415.01,899.20H446.01M430.51,883.70V914.70" stroke="#66A33C" stroke-width="2.6" fill="none"/><path d="M501.38,883.00H532.38M516.88,867.50V898.50" stroke="#66A33C" stroke-width="2.6" fill="none"/><path d="M587.75,865.70H618.75M603.25,850.20V881.20" stroke="#66A33C" stroke-width="2.6" fill="none"/><path d="M674.12,845.00H705.12M689.62,829.50V860.50" stroke="#66A33C" stroke-width="2.6" fill="none"/><path d="M760.49,818.60H791.49M775.99,803.10V834.10" stroke="#66A33C" stroke-width="2.6" fill="none"/><path d="M846.86,782.90H877.86M862.36,767.40V798.40" stroke="#66A33C" stroke-width="2.6" fill="none"/><path d="M933.23,725.30H964.23M948.73,709.80V740.80" stroke="#66A33C" stroke-width="2.6" fill="none"/></g>
<g><line x1="171.40" y1="898.50" x2="257.77" y2="880.50" stroke="#335089" stroke-width="6" stroke-linecap="round" stroke-dasharray="0.01 12"/><line x1="257.77" y1="880.50" x2="344.14" y2="862.90" stroke="#335089" stroke-width="6" stroke-linecap="round" stroke-dasharray="0.01 12"/><line x1="344.14" y1="862.90" x2="430.51" y2="837.20" stroke="#335089" stroke-width="6" stroke-linecap="round" stroke-dasharray="0.01 12"/><line x1="430.51" y1="837.20" x2="516.88" y2="805.10" stroke="#335089" stroke-width="6" stroke-linecap="round" stroke-dasharray="0.01 12"/><line x1="516.88" y1="805.10" x2="603.25" y2="751.90" stroke="#335089" stroke-width="6" stroke-linecap="round" stroke-dasharray="0.01 12"/><line x1="603.25" y1="751.90" x2="689.62" y2="682.80" stroke="#335089" stroke-width="6" stroke-linecap="round" stroke-dasharray="0.01 12"/><line x1="689.62" y1="682.80" x2="775.99" y2="590.80" stroke="#335089" stroke-width="6" stroke-linecap="round" stroke-dasharray="0.01 12"/><line x1="775.99" y1="590.80" x2="862.36" y2="447.00" stroke="#335089" stroke-width="6" stroke-linecap="round" stroke-dasharray="0.01 12"/><line x1="862.36" y1="447.00" x2="948.73" y2="282.60" stroke="#335089" stroke-width="6" stroke-linecap="round" stroke-dasharray="0.01 12"/><path d="M171.40,896.37V900.63" stroke="#3B3330" stroke-width="2.2" fill="none"/><path d="M164.60,896.37H178.20M164.60,900.63H178.20" stroke="#3B3330" stroke-width="2.6" fill="none"/><path d="M257.77,877.47V883.53" stroke="#3B3330" stroke-width="2.2" fill="none"/><path d="M250.97,877.47H264.57M250.97,883.53H264.57" stroke="#3B3330" stroke-width="2.6" fill="none"/><path d="M344.14,858.99V866.81" stroke="#3B3330" stroke-width="2.2" fill="none"/><path d="M337.34,858.99H350.94M337.34,866.81H350.94" stroke="#3B3330" stroke-width="2.6" fill="none"/><path d="M430.51,832.00V842.40" stroke="#3B3330" stroke-width="2.2" fill="none"/><path d="M423.71,832.00H437.31M423.71,842.40H437.31" stroke="#3B3330" stroke-width="2.6" fill="none"/><path d="M516.88,798.30V811.90" stroke="#3B3330" stroke-width="2.2" fill="none"/><path d="M510.08,798.30H523.68M510.08,811.90H523.68" stroke="#3B3330" stroke-width="2.6" fill="none"/><path d="M603.25,742.44V761.36" stroke="#3B3330" stroke-width="2.2" fill="none"/><path d="M596.45,742.44H610.05M596.45,761.36H610.05" stroke="#3B3330" stroke-width="2.6" fill="none"/><path d="M689.62,669.88V695.71" stroke="#3B3330" stroke-width="2.2" fill="none"/><path d="M682.82,669.88H696.42M682.82,695.71H696.42" stroke="#3B3330" stroke-width="2.6" fill="none"/><path d="M775.99,573.28V608.31" stroke="#3B3330" stroke-width="2.2" fill="none"/><path d="M769.19,573.28H782.79M769.19,608.31H782.79" stroke="#3B3330" stroke-width="2.6" fill="none"/><path d="M862.36,422.30V471.70" stroke="#3B3330" stroke-width="2.2" fill="none"/><path d="M855.56,422.30H869.16M855.56,471.70H869.16" stroke="#3B3330" stroke-width="2.6" fill="none"/><path d="M948.73,249.68V315.53" stroke="#3B3330" stroke-width="2.2" fill="none"/><path d="M941.93,249.68H955.53M941.93,315.53H955.53" stroke="#3B3330" stroke-width="2.6" fill="none"/><circle cx="171.40" cy="898.50" r="9.8" fill="#335089"/><circle cx="257.77" cy="880.50" r="9.8" fill="#335089"/><circle cx="344.14" cy="862.90" r="9.8" fill="#335089"/><circle cx="430.51" cy="837.20" r="9.8" fill="#335089"/><circle cx="516.88" cy="805.10" r="9.8" fill="#335089"/><circle cx="603.25" cy="751.90" r="9.8" fill="#335089"/><circle cx="689.62" cy="682.80" r="9.8" fill="#335089"/><circle cx="775.99" cy="590.80" r="9.8" fill="#335089"/><circle cx="862.36" cy="447.00" r="9.8" fill="#335089"/><circle cx="948.73" cy="282.60" r="9.8" fill="#335089"/></g>
<g><line x1="171.40" y1="885.00" x2="257.77" y2="851.80" stroke="#9B4620" stroke-width="3.5" stroke-linecap="round" stroke-dasharray="22.5 16.5 0.01 13.5 0.01 13.49"/><line x1="257.77" y1="851.80" x2="344.14" y2="816.70" stroke="#9B4620" stroke-width="3.5" stroke-linecap="round" stroke-dasharray="22.5 16.5 0.01 13.5 0.01 13.49"/><line x1="344.14" y1="816.70" x2="430.51" y2="786.30" stroke="#9B4620" stroke-width="3.5" stroke-linecap="round" stroke-dasharray="22.5 16.5 0.01 13.5 0.01 13.49"/><line x1="430.51" y1="786.30" x2="516.88" y2="740.40" stroke="#9B4620" stroke-width="3.5" stroke-linecap="round" stroke-dasharray="22.5 16.5 0.01 13.5 0.01 13.49"/><line x1="516.88" y1="740.40" x2="603.25" y2="682.50" stroke="#9B4620" stroke-width="3.5" stroke-linecap="round" stroke-dasharray="22.5 16.5 0.01 13.5 0.01 13.49"/><line x1="603.25" y1="682.50" x2="689.62" y2="596.10" stroke="#9B4620" stroke-width="3.5" stroke-linecap="round" stroke-dasharray="22.5 16.5 0.01 13.5 0.01 13.49"/><line x1="689.62" y1="596.10" x2="775.99" y2="481.10" stroke="#9B4620" stroke-width="3.5" stroke-linecap="round" stroke-dasharray="22.5 16.5 0.01 13.5 0.01 13.49"/><line x1="775.99" y1="481.10" x2="862.36" y2="323.60" stroke="#9B4620" stroke-width="3.5" stroke-linecap="round" stroke-dasharray="22.5 16.5 0.01 13.5 0.01 13.49"/><line x1="862.36" y1="323.60" x2="948.73" y2="111.90" stroke="#9B4620" stroke-width="3.5" stroke-linecap="round" stroke-dasharray="22.5 16.5 0.01 13.5 0.01 13.49"/><path d="M171.40,882.20V887.80" stroke="#3B3330" stroke-width="2.2" fill="none"/><path d="M164.60,882.20H178.20M164.60,887.80H178.20" stroke="#3B3330" stroke-width="2.6" fill="none"/><path d="M257.77,847.33V856.26" stroke="#3B3330" stroke-width="2.2" fill="none"/><path d="M250.97,847.33H264.57M250.97,856.26H264.57" stroke="#3B3330" stroke-width="2.6" fill="none"/><path d="M344.14,810.48V822.92" stroke="#3B3330" stroke-width="2.2" fill="none"/><path d="M337.34,810.48H350.94M337.34,822.92H350.94" stroke="#3B3330" stroke-width="2.6" fill="none"/><path d="M430.51,778.56V794.04" stroke="#3B3330" stroke-width="2.2" fill="none"/><path d="M423.71,778.56H437.31M423.71,794.04H437.31" stroke="#3B3330" stroke-width="2.6" fill="none"/><path d="M516.88,730.37V750.43" stroke="#3B3330" stroke-width="2.2" fill="none"/><path d="M510.08,730.37H523.68M510.08,750.43H523.68" stroke="#3B3330" stroke-width="2.6" fill="none"/><path d="M603.25,669.57V695.43" stroke="#3B3330" stroke-width="2.2" fill="none"/><path d="M596.45,669.57H610.05M596.45,695.43H610.05" stroke="#3B3330" stroke-width="2.6" fill="none"/><path d="M689.62,578.85V613.35" stroke="#3B3330" stroke-width="2.2" fill="none"/><path d="M682.82,578.85H696.42M682.82,613.35H696.42" stroke="#3B3330" stroke-width="2.6" fill="none"/><path d="M775.99,458.10V504.10" stroke="#3B3330" stroke-width="2.2" fill="none"/><path d="M769.19,458.10H782.79M769.19,504.10H782.79" stroke="#3B3330" stroke-width="2.6" fill="none"/><path d="M862.36,292.73V354.48" stroke="#3B3330" stroke-width="2.2" fill="none"/><path d="M855.56,292.73H869.16M855.56,354.48H869.16" stroke="#3B3330" stroke-width="2.6" fill="none"/><path d="M948.73,70.44V153.36" stroke="#3B3330" stroke-width="2.2" fill="none"/><path d="M941.93,70.44H955.53M941.93,153.36H955.53" stroke="#3B3330" stroke-width="2.6" fill="none"/><circle cx="171.40" cy="885.00" r="9.8" fill="#9B4620"/><circle cx="257.77" cy="851.80" r="9.8" fill="#9B4620"/><circle cx="344.14" cy="816.70" r="9.8" fill="#9B4620"/><circle cx="430.51" cy="786.30" r="9.8" fill="#9B4620"/><circle cx="516.88" cy="740.40" r="9.8" fill="#9B4620"/><circle cx="603.25" cy="682.50" r="9.8" fill="#9B4620"/><circle cx="689.62" cy="596.10" r="9.8" fill="#9B4620"/><circle cx="775.99" cy="481.10" r="9.8" fill="#9B4620"/><circle cx="862.36" cy="323.60" r="9.8" fill="#9B4620"/><circle cx="948.73" cy="111.90" r="9.8" fill="#9B4620"/></g>
<line x1="211.30" y1="51.60" x2="281.30" y2="51.60" stroke="#EE7B31" stroke-width="8" stroke-linecap="round" stroke-dasharray="17.6 15.2 19.5 100"/>
<rect x="236.90" y="42.00" width="19.2" height="19.2" fill="#EE7B31"/>
<line x1="359.70" y1="51.60" x2="429.70" y2="51.60" stroke="#A79F9B" stroke-width="6" stroke-linecap="round" stroke-dasharray="43 24 0.01 26"/>
<circle cx="394.90" cy="51.60" r="9.8" fill="#A79F9B"/>
<line x1="509.60" y1="51.60" x2="579.60" y2="51.60" stroke="#FDB92B" stroke-width="8" stroke-linecap="round" stroke-dasharray="26 28.5 0.01 100"/>
<path d="M535.30,51.60L544.80,41.60L554.30,51.60L544.80,61.60Z" fill="#FDB92B"/>
<line x1="658.50" y1="51.60" x2="726.00" y2="51.60" stroke="#6895CE" stroke-width="5.4" stroke-linecap="round"/>
<circle cx="693.70" cy="51.60" r="9.8" fill="#6895CE"/>
<line x1="211.30" y1="148.40" x2="281.30" y2="148.40" stroke="#5561AD" stroke-width="6" stroke-linecap="round" stroke-dasharray="41 26 0.01 26"/>
<circle cx="246.50" cy="148.40" r="9.8" fill="#5561AD"/>
<mask id="m78" maskUnits="userSpaceOnUse" x="0" y="0" width="1000" height="1043"><line x1="359.70" y1="148.40" x2="429.70" y2="148.40" stroke="#fff" stroke-width="7.6" stroke-linecap="round" stroke-dasharray="54.2 30.3 0.01 200"/><line x1="359.70" y1="148.40" x2="429.70" y2="148.40" stroke="#000" stroke-width="2.8" stroke-linecap="round" stroke-dasharray="54.2 300"/></mask><rect x="0" y="0" width="1000" height="1043" fill="#66A33C" mask="url(#m78)"/>
<path d="M383.90,148.40H405.90M394.90,137.40V159.40" stroke="#66A33C" stroke-width="2.6" fill="none"/>
<line x1="509.60" y1="148.40" x2="579.60" y2="148.40" stroke="#335089" stroke-width="6" stroke-linecap="round" stroke-dasharray="0.01 12"/>
<circle cx="544.80" cy="148.40" r="9.8" fill="#335089"/>
<line x1="658.50" y1="148.40" x2="728.50" y2="148.40" stroke="#9B4620" stroke-width="3.5" stroke-linecap="round" stroke-dasharray="22.5 16.5 0.01 13.5 0.01 13.49"/>
<circle cx="693.70" cy="148.40" r="9.8" fill="#9B4620"/>
</svg></body></html>
